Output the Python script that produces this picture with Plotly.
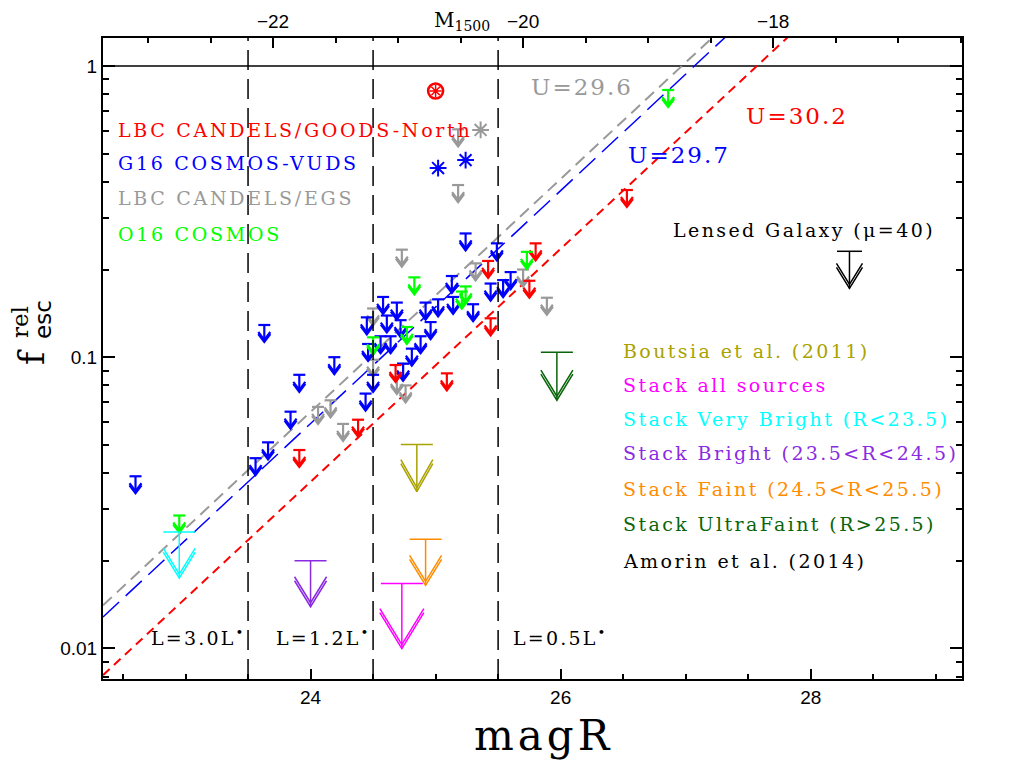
import numpy as np
import plotly.graph_objects as go

# ---------------- data ----------------
# G16 COSMOS-VUDS (blue) upper limits
blue_mag = [22.60, 23.56, 23.66, 23.63, 23.84, 23.91, 24.19, 24.44, 24.50, 24.46,
            24.45, 24.58, 24.69, 24.56, 24.64, 24.61, 24.72, 24.81, 24.74, 24.88,
            24.92, 24.96, 25.02, 25.14, 25.13, 25.30, 25.24, 25.44, 25.49, 25.54, 25.60]
blue_f = [0.039, 0.045, 0.051, 0.129, 0.065, 0.087, 0.100, 0.075, 0.087, 0.111,
          0.137, 0.161, 0.154, 0.118, 0.118, 0.139, 0.134, 0.107, 0.095, 0.118,
          0.154, 0.132, 0.158, 0.161, 0.190, 0.152, 0.266, 0.179, 0.246, 0.184, 0.196]
blue_det_mag = [25.02, 25.24]
blue_det_f = [0.446, 0.475]

# LBC CANDELS/EGS (gray)
gray_mag = [24.06, 24.16, 24.26, 24.50, 24.50, 24.73, 24.74, 24.69, 24.76,
            25.18, 25.18, 25.32, 25.70, 25.89]
gray_f = [0.0675, 0.0711, 0.059, 0.098, 0.147, 0.234, 0.095, 0.0856, 0.080,
          0.606, 0.39, 0.21, 0.20, 0.16]
gray_det_mag = [25.36]
gray_det_f = [0.603]

# LBC CANDELS/GOODS-North (red)
red_mag = [23.91, 24.38, 24.68, 25.09, 25.44, 25.42, 25.75, 25.80, 26.53]
red_f = [0.048, 0.061, 0.094, 0.088, 0.136, 0.214, 0.183, 0.246, 0.375]
red_det_mag = [25.00]
red_det_f = [0.82]

# O16 COSMOS (green)
green_mag = [22.95, 24.50, 24.77, 24.83, 25.21, 25.24, 25.73, 26.86]
green_f = [0.0286, 0.117, 0.127, 0.188, 0.168, 0.175, 0.230, 0.827]

# stacks and literature (big upper limits)
stack_names = ["Boutsia et al. (2011)", "Stack all sources", "Stack Very Bright (R<23.5)",
               "Stack Bright (23.5<R<24.5)", "Stack Faint (24.5<R<25.5)",
               "Stack UltraFaint (R>25.5)", "Amorin et al. (2014)"]
stack_mag = [24.85, 24.73, 22.95, 24.00, 24.92, 25.97, 28.31]
stack_f = [0.0501, 0.0167, 0.0251, 0.0200, 0.0237, 0.104, 0.231]

# model lines f = 10^(0.4 (m - (U - offset)))
model_U = [29.6, 29.7, 30.2]
model_labels = ["U=29.6", "U=29.7", "U=30.2"]
model_offset = 2.63

# luminosity bins
bin_edges = [23.5, 24.5, 25.5]
bin_labels = ["L=3.0L<sup>•</sup>", "L=1.2L<sup>•</sup>", "L=0.5L<sup>•</sup>"]

# axes
x_tickvals = [24, 26, 28]
top_tickvals = [-22, -20, -18]
top_ticktext = ["\u221222", "\u221220", "\u221218"]
y_tickvals = [0.01, 0.1, 1]
y_ticktext = ["0.01", "0.1", "1"]
M_OFFSET = 45.7   # M1500 = magR - 45.7

# ---------------- layout geometry ----------------
W, H = 1021, 763
PAGE_OFF = 8                       # default body margin of the html page
PL, PR, PT, PB = 103, 962, 38, 679  # plot area in page pixels
ML, MT = PL - PAGE_OFF, PT - PAGE_OFF
MR, MB = W - (PR - PAGE_OFF), H - (PB - PAGE_OFF)
X_MIN, X_MAX = 22.34, 29.21
YL_MIN, YL_MAX = -2.105, 0.096
PW, PH = PR - PL, PB - PT
PXM = PW / (X_MAX - X_MIN)
PXD = PH / (YL_MAX - YL_MIN)

C_RED, C_BLUE, C_GRAY, C_GREEN = "#ff0000", "#0000ff", "#999999", "#00ff00"
stack_colors = ["#aaa200", "#ff00ff", "#00ffff", "#8a2be2", "#ff8c00", "#0a640a", "#000000"]
model_colors = [C_GRAY, C_BLUE, C_RED]


def arrows(xs, fs, hw, stem, hh, hhw, double=0.0):
    X, Y = [], []
    for x, f in zip(xs, fs):
        ly = np.log10(f)
        tip = ly - stem / PXD
        X += [x - hw / PXM, x + hw / PXM, None, x, x, None]
        Y += [f, f, None, f, 10 ** tip, None]
        for o in ([0.0, double] if double else [0.0]):
            t = tip + o / PXD
            X += [x - hhw / PXM, x, x + hhw / PXM, None]
            Y += [10 ** (t + hh / PXD), 10 ** t, 10 ** (t + hh / PXD), None]
    return X, Y


fig = go.Figure()

# f = 1 line
fig.add_trace(go.Scatter(x=[X_MIN, X_MAX], y=[1, 1], mode="lines",
                         line=dict(color="black", width=1.5), hoverinfo="skip"))

# model lines
xl = np.array([X_MIN, X_MAX])
dashes = ["12px,7px", "22px,9px", "9px,6px"]
widths = [2, 1.5, 2]
for U, c, d, w in zip(model_U, model_colors, dashes, widths):
    fig.add_trace(go.Scatter(x=xl, y=10 ** (0.4 * (xl - (U - model_offset))), mode="lines",
                             line=dict(color=c, width=w, dash=d), hoverinfo="skip"))

# small upper limits
for mx, fy, c in [(gray_mag, gray_f, C_GRAY), (blue_mag, blue_f, C_BLUE),
                  (red_mag, red_f, C_RED), (green_mag, green_f, C_GREEN)]:
    X, Y = arrows(mx, fy, 6, 17, 8, 6, double=2)
    fig.add_trace(go.Scatter(x=X, y=Y, mode="lines", line=dict(color=c, width=2.2),
                             hoverinfo="skip"))

# detections
def det(xs, ys, sym, size, col, lw):
    fig.add_trace(go.Scatter(x=xs, y=ys, mode="markers", hoverinfo="skip",
                             marker=dict(symbol=sym, size=size, color=col,
                                         line=dict(color=col, width=lw))))

det(blue_det_mag, blue_det_f, "asterisk-open", 14, C_BLUE, 2)
det(gray_det_mag, gray_det_f, "asterisk-open", 14, C_GRAY, 2)
det(red_det_mag, red_det_f, "circle-open", 15, C_RED, 2.5)
det(red_det_mag, red_det_f, "asterisk-open", 10, C_RED, 1.5)

# big upper limits (stacks)
big_geom = [(16, 47, 28, 16), (21, 65, 36, 22), (16, 46, 26, 16), (16, 46, 26, 16),
            (16, 46, 26, 16), (16, 48, 26, 16), (12.5, 37, 21, 13)]
for i in range(len(stack_mag)):
    hw, st, hh, hhw = big_geom[i]
    X, Y = arrows([stack_mag[i]], [stack_f[i]], hw, st, hh, hhw, double=4)
    fig.add_trace(go.Scatter(x=X, y=Y, mode="lines",
                             line=dict(color=stack_colors[i], width=1.5), hoverinfo="skip"))

# dummy trace on top axis
fig.add_trace(go.Scatter(x=[X_MIN - M_OFFSET], y=[1], xaxis="x2", mode="markers",
                         marker=dict(opacity=0), hoverinfo="skip"))

# bin edges
shapes = []
for e in bin_edges:
    shapes.append(dict(type="line", xref="x", yref="paper", x0=e, x1=e, y0=0, y1=1,
                       line=dict(color="black", width=1.5, dash="20px,9px")))

ann = []
def txt(x, ly, s, color, size, family="DejaVu Serif", xanchor="left",
        spacing="letter-spacing:2.7px", **kw):
    ann.append(dict(x=x, y=ly, xref="x", yref="y", text=f"<span style='{spacing}'>{s}</span>",
                    showarrow=False, xanchor=xanchor, yanchor="middle",
                    font=dict(color=color, size=size, family=family), **kw))

def px2mag(px):
    return X_MIN + (px - PL) / PXM

def py2log(py):
    return YL_MAX - (py - PT) / PXD

def pxp(px):
    return (px - PL) / PW

def pyp(py):
    return (PB - py) / PH

# left legend
left_names = ["LBC CANDELS/GOODS-North", "G16 COSMOS-VUDS", "LBC CANDELS/EGS", "O16 COSMOS"]
left_cols = [C_RED, C_BLUE, C_GRAY, C_GREEN]
left_py = [130, 163, 198, 234]
for n, c, p in zip(left_names, left_cols, left_py):
    txt(px2mag(116), py2log(p), n, c, 19)

# right legend
right_py = [351, 385, 419, 453, 489, 524, 561]
for n, c, p in zip(stack_names, stack_colors, right_py):
    txt(px2mag(621), py2log(p), n, c, 19, spacing="letter-spacing:2.4px")
txt(px2mag(671), py2log(230), "Lensed Galaxy (\u03bc=40)", "black", 19,
    spacing="letter-spacing:2.4px")

# model labels
model_lab_px = [(529, 87), (626, 155), (744, 116)]
for lab, c, (px, py) in zip(model_labels, model_colors, model_lab_px):
    txt(px2mag(px), py2log(py), lab, c, 23, spacing="letter-spacing:2px")

# bin labels
bin_label_px = [149, 274, 511]
for lab, p in zip(bin_labels, bin_label_px):
    txt(px2mag(p), py2log(637), lab, "black", 19, spacing="letter-spacing:2.2px")

# M1500 title
ann.append(dict(x=pxp(462), y=pyp(36), xref="paper", yref="paper",
                text="M<sub>1500</sub>", showarrow=False, xanchor="center",
                yanchor="bottom", font=dict(size=20, family="DejaVu Serif", color="black")))

# y title
ann.append(dict(x=pxp(31), y=pyp(357), xref="paper", yref="paper",
                text="f", showarrow=False, textangle=-90, xanchor="center", yanchor="middle",
                font=dict(size=36, family="DejaVu Serif", color="black")))
ann.append(dict(x=pxp(20), y=pyp(322), xref="paper", yref="paper",
                text="rel", showarrow=False, textangle=-90, xanchor="center", yanchor="middle",
                font=dict(size=23, family="DejaVu Serif", color="black")))
ann.append(dict(x=pxp(43), y=pyp(320), xref="paper", yref="paper",
                text="esc", showarrow=False, textangle=-90, xanchor="center", yanchor="middle",
                font=dict(size=23, family="DejaVu Sans", color="black")))

# x title
ann.append(dict(x=pxp(543), y=pyp(735), xref="paper", yref="paper",
                text="<span style='letter-spacing:4px'>magR</span>", showarrow=False,
                xanchor="center", yanchor="middle",
                font=dict(size=42, family="DejaVu Serif", color="black")))

tickfont = dict(size=19, family="Liberation Sans", color="black")
fig.update_layout(
    width=W, height=H, margin=dict(l=ML, r=MR, t=MT, b=MB, autoexpand=False),
    paper_bgcolor="white", plot_bgcolor="white", showlegend=False,
    shapes=shapes, annotations=ann,
    xaxis=dict(range=[X_MIN, X_MAX], showgrid=False, zeroline=False, showline=True,
               automargin=False,
               linecolor="black", linewidth=2, mirror=True, ticks="inside", ticklen=10,
               tickwidth=1.5, tickcolor="black", tickvals=x_tickvals, tickfont=tickfont,
               minor=dict(dtick=0.5, tick0=22, ticks="inside", ticklen=5, tickwidth=1.5,
                          tickcolor="black")),
    xaxis2=dict(range=[X_MIN - M_OFFSET, X_MAX - M_OFFSET], overlaying="x", side="top",
                anchor="y", showgrid=False, zeroline=False, showline=True, linecolor="black",
                automargin=False,
                linewidth=2, ticks="inside", ticklen=10, tickwidth=1.5, tickcolor="black",
                tickvals=top_tickvals, ticktext=top_ticktext, tickfont=tickfont,
                minor=dict(dtick=0.5, tick0=-22, ticks="inside", ticklen=5, tickwidth=1.5,
                           tickcolor="black")),
    yaxis=dict(type="log", range=[YL_MIN, YL_MAX], showgrid=False, zeroline=False,
               automargin=False,
               showline=True, linecolor="black", linewidth=2, mirror="ticks",
               ticks="inside", ticklen=12, tickwidth=1.5, tickcolor="black",
               tickvals=y_tickvals, ticktext=y_ticktext, tickfont=tickfont,
               minor=dict(tickvals=[k * 10 ** d for d in (-3, -2, -1) for k in range(2, 10)],
                          ticks="inside", ticklen=6, tickwidth=1.5, tickcolor="black")),
)

fig.write_html("out.html")
